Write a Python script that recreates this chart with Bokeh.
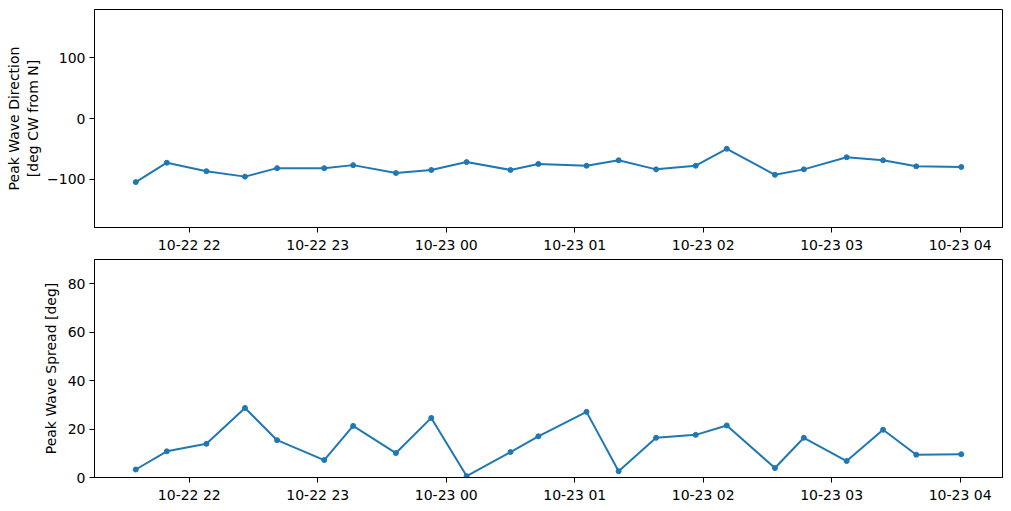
import numpy as np
from bokeh.plotting import figure
from bokeh.layouts import column
from bokeh.models import ColumnDataSource, Range1d, FixedTicker, DatetimeTickFormatter, CustomJSTickFormatter
from bokeh.embed import file_html
from bokeh.resources import INLINE

times = [
    "2023-10-22T21:35:00", "2023-10-22T21:49:30", "2023-10-22T22:08:00", "2023-10-22T22:26:00",
    "2023-10-22T22:41:00", "2023-10-22T23:03:00", "2023-10-22T23:16:30", "2023-10-22T23:36:30",
    "2023-10-22T23:53:00", "2023-10-23T00:09:30", "2023-10-23T00:30:00", "2023-10-23T00:43:00",
    "2023-10-23T01:05:30", "2023-10-23T01:20:30", "2023-10-23T01:38:00", "2023-10-23T01:56:30",
    "2023-10-23T02:11:00", "2023-10-23T02:33:30", "2023-10-23T02:47:00", "2023-10-23T03:07:00",
    "2023-10-23T03:24:00", "2023-10-23T03:39:30", "2023-10-23T04:00:30",
]
peak_direction = [-105, -73, -87, -96, -82, -82, -77, -90, -85, -72, -85, -75,
                  -78, -69, -84, -78, -50, -93, -84, -64, -69, -79, -80]
peak_spread = [3.3, 10.8, 13.9, 28.7, 15.4, 7.2, 21.3, 10.1, 24.6, 0.6, 10.5, 17.0,
               27.1, 2.6, 16.4, 17.6, 21.5, 3.9, 16.4, 6.8, 19.7, 9.4, 9.6]
tick_times = ["2023-10-22T22:00", "2023-10-22T23:00", "2023-10-23T00:00", "2023-10-23T01:00",
              "2023-10-23T02:00", "2023-10-23T03:00", "2023-10-23T04:00"]

def to_ms(lst):
    return np.array(lst, dtype="datetime64[ms]").astype("int64").astype(float)

x = to_ms(times)
ticks = list(to_ms(tick_times))
span = x.max() - x.min()
x_start, x_end = x.min() - 0.05 * span, x.max() + 0.05 * span

src = ColumnDataSource(dict(x=x, d=peak_direction, s=peak_spread))

FONT = "DejaVu Sans"
COLOR = "#1f77b4"

dt_fmt = "%m-%d %H"
xfmt = DatetimeTickFormatter(hours=dt_fmt, hourmin=dt_fmt, minutes=dt_fmt, minsec=dt_fmt,
                             days=dt_fmt, months=dt_fmt, years=dt_fmt, seconds=dt_fmt,
                             milliseconds=dt_fmt, microseconds=dt_fmt, strip_leading_zeros=False)
yfmt = CustomJSTickFormatter(code="return tick < 0 ? '\u2212' + Math.abs(tick) : String(tick);")


def make(ycol, yr, yticks, label, height, top, bottom, standoff):
    p = figure(width=1003, height=height, output_backend="svg", toolbar_location=None,
               x_range=Range1d(x_start, x_end), y_range=Range1d(*yr),
               min_border_left=94, min_border_right=1, min_border_top=top, min_border_bottom=bottom)
    p.line("x", ycol, source=src, line_color=COLOR, line_width=2)
    p.scatter("x", ycol, source=src, size=5, fill_color=COLOR, line_color=COLOR)
    p.grid.visible = False
    p.outline_line_color = "black"
    p.outline_line_width = 1
    p.background_fill_color = "white"
    p.border_fill_color = "white"
    p.xaxis.ticker = FixedTicker(ticks=ticks)
    p.xaxis.formatter = xfmt
    p.yaxis.ticker = FixedTicker(ticks=yticks)
    p.yaxis.formatter = yfmt
    for ax in (p.xaxis, p.yaxis):
        ax.axis_line_color = "black"
        ax.major_tick_line_color = "black"
        ax.major_tick_out = 5
        ax.major_tick_in = 0
        ax.minor_tick_line_color = None
        ax.major_label_text_font = FONT
        ax.major_label_text_font_size = "14px"
        ax.major_label_text_color = "black"
        ax.major_label_standoff = 4
    p.yaxis.axis_label = label
    p.yaxis.axis_label_text_font = FONT
    p.yaxis.axis_label_text_font_size = "14px"
    p.yaxis.axis_label_text_font_style = "normal"
    p.yaxis.axis_label_text_color = "black"
    p.yaxis.axis_label_standoff = standoff
    return p

p1 = make("d", (-180, 180), [-100, 0, 100], "Peak Wave Direction\n[deg CW from N]", 258, 9, 31, 3)
p2 = make("s", (0, 90), [0, 20, 40, 60, 80], "Peak Wave Spread [deg]", 249, 1, 30, 6)

layout = column(p1, p2)
open("out.html", "w").write(file_html(layout, INLINE))
